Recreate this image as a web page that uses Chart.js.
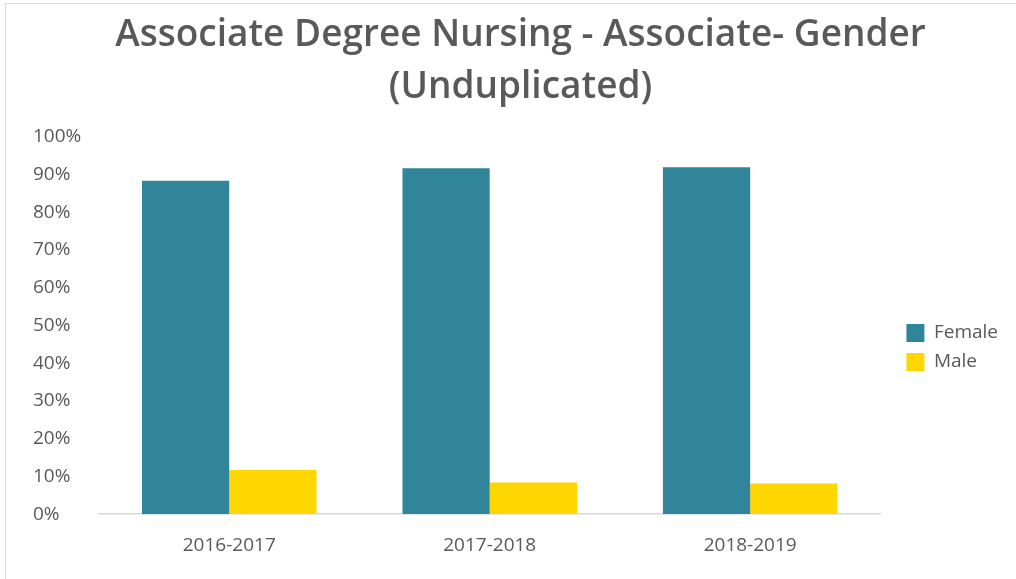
<!DOCTYPE html>
<html>
<head>
<meta charset="utf-8">
<script src="https://cdn.jsdelivr.net/npm/chart.js@4.4.1/dist/chart.umd.min.js"></script>
<style>
  html, body { margin: 0; padding: 0; background: #fff; }
  #frame { position: absolute; left: 5px; top: 3px; width: 1030px; height: 600px; border: 1px solid #d9d9d9; }
  #wrap { position: absolute; left: 0; top: 0; width: 1016px; height: 579px; }
</style>
</head>
<body>
<div id="frame"></div>
<div id="wrap"><canvas id="genderChart"></canvas></div>
<script>
// chart data
const years = ['2016-2017', '2017-2018', '2018-2019'];
const femalePct = [88.3, 91.6, 91.9];
const malePct = [11.7, 8.4, 8.1];

const textGrey = '#595959';

Chart.defaults.font.family = "'Open Sans', sans-serif";
Chart.defaults.color = textGrey;

const ctx = document.getElementById('genderChart');
new Chart(ctx.getContext('2d'), {
    type: 'bar',
    data: {
        labels: years,
        datasets: [
            { label: 'Female', data: femalePct, backgroundColor: '#31859b' },
            { label: 'Male', data: malePct, backgroundColor: '#ffd600' }
        ]
    },
    options: {
        responsive: true, maintainAspectRatio: false,
        animation: false,
        layout: { padding: { left: 33, right: 8, top: 4, bottom: 10 } },
        datasets: { bar: { categoryPercentage: 0.67, barPercentage: 1.0 } },
        plugins: {
            title: {
                display: true,
                text: ['Associate Degree Nursing - Associate- Gender', '(Unduplicated)'],
                font: { size: 37, weight: '600', lineHeight: 1.4 },
                color: textGrey,
                padding: { top: 6, bottom: 23 }
            },
            legend: {
                position: 'right',
                // empty legend title only pushes the items down
                title: { display: true, text: '', font: { size: 10, lineHeight: 1 }, padding: { top: 0, bottom: 112 } },
                labels: { boxWidth: 18, boxHeight: 18, padding: 10, font: { size: 19 }, color: textGrey }
            },
            tooltip: { enabled: false }
        },
        scales: {
            x: {
                grid: { display: false },
                border: { color: '#d9d9d9', width: 1.5 },
                ticks: { font: { size: 19 }, color: textGrey, padding: 12 }
            },
            y: {
                min: 0, max: 100,
                grid: { display: false },
                border: { display: false },
                afterFit: s => { s.width = 66; },
                ticks: {
                    stepSize: 10,
                    font: { size: 19 }, color: textGrey,
                    crossAlign: 'far', padding: 14,
                    callback: v => v + '%'
                }
            },
            // empty spacer between plot and legend
            gap: {
                type: 'linear', position: 'right',
                grid: { display: false }, border: { display: false },
                ticks: { display: false },
                afterFit: s => { s.width = 16; }
            }
        }
    }
});
</script>
</body>
</html>
